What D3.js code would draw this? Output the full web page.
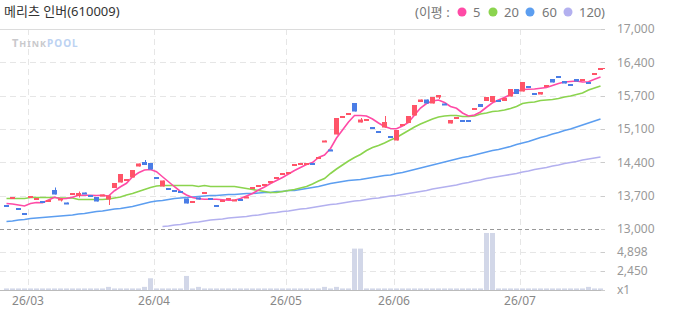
<!DOCTYPE html>
<html>
<head>
<meta charset="utf-8">
<script src="https://cdn.jsdelivr.net/npm/d3@7"></script>
<style>
body { margin: 0; background: #fff; }
text { font-family: "Noto Sans", "Noto Sans CJK KR", sans-serif; }
</style>
</head>
<body>
<div id="chart"></div>
<script>
var title = "메리츠 인버(610009)";

// daily candles, oldest first
var opens = [13480,13620,13420,13320,13650,13580,13560,13570,13780,13570,
  13530,13710,13660,13730,13680,13640,13680,13590,13820,13930,
  13960,14030,14250,14340,14320,14040,13850,13820,13780,13760,
  13610,13550,13630,13730,13620,13480,13570,13610,13580,13600,
  13640,13830,13870,13890,13950,14030,14110,14130,14290,14290,
  14310,14320,14430,14760,14590,14890,15250,15310,15520,15130,
  15190,15040,14960,15030,14860,14770,15090,15120,15270,15540,
  15590,15510,15630,15510,15110,15230,15180,15180,15410,15500,
  15560,15540,15580,15560,15650,15800,15750,15860,15720,15690,
  15870,16000,16060,15960,15900,16000,15990,15940,16110,16210];
var closes = [13470,13640,13410,13310,13660,13620,13550,13580,13690,13610,
  13520,13720,13720,13720,13670,13550,13690,13670,13920,14100,
  14000,14180,14310,14280,14190,14030,13970,13810,13770,13750,
  13510,13560,13590,13740,13610,13470,13580,13620,13590,13590,
  13650,13840,13880,13900,13960,14040,14120,14140,14300,14320,
  14320,14290,14440,14770,14580,15220,15260,15320,15350,15190,
  15200,15030,14950,15140,14850,14980,15100,15260,15480,15590,
  15510,15640,15680,15500,15180,15240,15170,15170,15420,15440,
  15640,15660,15570,15620,15800,15700,15940,15850,15710,15740,
  15880,15930,16030,15910,15890,15950,16000,15930,16120,16220];
var highs = [13480,13640,13420,13320,13660,13620,13560,13580,13830,13610,
  13530,13720,13750,13730,13680,13640,13690,13670,13920,14100,
  14000,14180,14310,14380,14320,14040,13970,13820,13780,13760,
  13610,13560,13630,13740,13620,13480,13580,13620,13590,13600,
  13650,13840,13880,13900,13960,14040,14120,14140,14300,14320,
  14320,14320,14440,14770,14590,15220,15260,15320,15520,15220,
  15200,15040,14960,15260,14860,14980,15100,15260,15480,15590,
  15590,15640,15680,15510,15180,15240,15180,15180,15420,15500,
  15640,15660,15580,15620,15800,15800,15940,15860,15720,15740,
  15880,16000,16060,15960,15900,16000,16000,15940,16120,16220];
var lows = [13470,13620,13410,13310,13650,13580,13550,13570,13690,13550,
  13520,13710,13630,13720,13670,13550,13680,13480,13820,13930,
  13960,14030,14250,14280,14190,14030,13850,13810,13770,13750,
  13510,13550,13590,13730,13610,13470,13570,13610,13580,13590,
  13640,13830,13870,13890,13950,14030,14110,14130,14290,14290,
  14310,14290,14430,14760,14580,14890,15250,15310,15350,15130,
  15190,15030,14950,15030,14850,14770,15090,15120,15270,15540,
  15510,15510,15600,15500,15110,15230,15170,15170,15410,15440,
  15560,15540,15570,15560,15650,15700,15750,15850,15710,15690,
  15870,15930,16030,15910,15890,15950,15990,15900,16110,16210];
var volumes = [200,200,200,200,200,200,200,200,200,200,
  200,200,200,200,200,200,200,400,200,200,
  200,200,200,400,1500,200,200,200,200,200,
  1800,200,400,200,200,200,200,200,200,200,
  200,200,200,200,200,200,200,200,200,200,
  200,200,200,400,200,400,200,200,5300,5300,
  200,200,200,200,200,200,200,200,200,200,
  200,200,200,200,200,200,200,200,200,200,
  7300,7300,200,200,200,200,200,200,200,200,
  200,200,200,200,200,200,200,400,200,200];

// moving averages
var ma5 = [13510,13500,13480,13460,13510,13530,13525,13580,13635,13605,
  13610,13635,13675,13675,13675,13670,13675,13660,13765,13845,
  13915,14045,14125,14180,14190,14145,14045,13945,13845,13750,
  13680,13630,13605,13595,13595,13595,13585,13575,13575,13610,
  13660,13710,13780,13840,13910,13970,14030,14100,14170,14230,
  14290,14330,14430,14480,14610,14820,14980,15140,15270,15270,
  15260,15200,15120,15050,15010,15005,15060,15130,15280,15420,
  15510,15560,15580,15530,15450,15415,15320,15260,15280,15340,
  15435,15525,15580,15630,15690,15750,15790,15795,15800,15815,
  15830,15870,15910,15940,15950,15960,15940,15945,15995,16040];
var ma20 = [13610,13610,13610,13610,13630,13630,13630,13630,13630,13620,
  13620,13620,13590,13590,13590,13590,13590,13600,13620,13640,
  13680,13710,13750,13790,13830,13860,13870,13870,13870,13870,
  13870,13870,13850,13870,13850,13850,13850,13850,13850,13830,
  13810,13790,13770,13750,13730,13730,13750,13770,13790,13820,
  13850,13900,13960,14010,14110,14200,14280,14360,14430,14490,
  14570,14630,14670,14720,14780,14830,14900,14970,15040,15100,
  15150,15200,15240,15260,15270,15270,15250,15250,15260,15300,
  15320,15350,15360,15380,15410,15450,15510,15530,15540,15570,
  15580,15590,15610,15640,15660,15690,15720,15780,15820,15860];
var ma60 = [13150,13160,13180,13190,13210,13220,13230,13240,13250,13260,
  13270,13280,13300,13310,13330,13350,13360,13380,13400,13410,
  13430,13450,13480,13510,13540,13560,13570,13590,13610,13620,
  13630,13640,13650,13660,13670,13670,13680,13690,13690,13700,
  13710,13710,13720,13730,13730,13750,13750,13770,13770,13790,
  13810,13830,13850,13880,13910,13930,13950,13970,13980,13990,
  14010,14030,14050,14070,14080,14110,14130,14160,14190,14220,
  14250,14280,14310,14340,14370,14400,14430,14450,14480,14510,
  14540,14570,14590,14620,14650,14690,14720,14750,14790,14830,
  14860,14900,14930,14970,15000,15040,15080,15120,15160,15200];
var ma120 = [null,null,null,null,null,null,null,null,null,null,
  null,null,null,null,null,null,null,null,null,null,
  null,null,null,null,null,null,13050,13060,13080,13090,
  13110,13130,13140,13160,13180,13190,13200,13220,13230,13240,
  13250,13270,13280,13300,13320,13330,13350,13360,13380,13400,
  13410,13430,13450,13470,13490,13500,13520,13540,13560,13570,
  13590,13610,13620,13640,13660,13670,13690,13710,13730,13750,
  13770,13800,13820,13840,13860,13880,13910,13930,13960,13980,
  14010,14030,14050,14070,14090,14110,14140,14160,14190,14210,
  14230,14260,14280,14310,14330,14350,14380,14400,14420,14440];

var monthStarts = [4, 25, 47, 65, 86];
var monthLabels = ["26/03", "26/04", "26/05", "26/06", "26/07"];
var priceTickLabels = ["13,000", "13,700", "14,400", "15,100", "15,700", "16,400", "17,000"];
var volTicks = [0, 2450, 4898];
var volTickLabels = ["x1", "2,450", "4,898"];
var maNames = ["5", "20", "60", "120"];
var maColors = ["#ff4aa6", "#8bd44e", "#5c9ef0", "#b3b0ef"];

var W = 673, H = 315;
var upColor = "#ff5468", downColor = "#4a7de6";

var svg = d3.select("#chart").append("svg")
  .attr("width", W)
  .attr("height", H);

var idx = d3.range(opens.length);
var x = d3.scaleBand().domain(idx).range([4, 603]).paddingInner(1 / 6).paddingOuter(0);
var xc = function(i) { return x(i) + x.bandwidth() / 2; };

var y = d3.scaleLinear().domain([13000, 17000]).range([229, 29]);
var yv = d3.scaleLinear().domain([0, 7347]).range([290, 232.6]);

var priceTicks = d3.range(7).map(function(k) { return 13000 + k * 4000 / 6; });

// grid
svg.append("g").selectAll("line")
  .data(priceTicks.slice(1, 6))
  .enter().append("line")
  .attr("x1", 0).attr("x2", 605)
  .attr("y1", function(d) { return Math.round(y(d)) + 0.5; })
  .attr("y2", function(d) { return Math.round(y(d)) + 0.5; })
  .style("stroke", "#e6e6e6")
  .style("stroke-dasharray", "6,4");

svg.append("g").selectAll("line")
  .data(volTicks.slice(1))
  .enter().append("line")
  .attr("x1", 0).attr("x2", 605)
  .attr("y1", function(d) { return Math.round(yv(d)) + 0.5; })
  .attr("y2", function(d) { return Math.round(yv(d)) + 0.5; })
  .style("stroke", "#e6e6e6")
  .style("stroke-dasharray", "6,4");

svg.append("g").selectAll("line")
  .data(monthStarts)
  .enter().append("line")
  .attr("x1", function(d) { return Math.round(x(d)) + 0.5; })
  .attr("x2", function(d) { return Math.round(x(d)) + 0.5; })
  .attr("y1", 29).attr("y2", 290)
  .style("stroke", "#e6e6e6")
  .style("stroke-dasharray", "6,4");

// top border and panel separator
svg.append("line")
  .attr("x1", 0).attr("x2", 605)
  .attr("y1", Math.round(y(17000)) + 0.5).attr("y2", Math.round(y(17000)) + 0.5)
  .style("stroke", "#dcdcdc");
svg.append("line")
  .attr("x1", 0).attr("x2", 605)
  .attr("y1", Math.round(y(13000)) + 0.5).attr("y2", Math.round(y(13000)) + 0.5)
  .style("stroke", "#999")
  .style("stroke-dasharray", "4,3");
svg.append("line")
  .attr("x1", 0).attr("x2", 603)
  .attr("y1", 290.5).attr("y2", 290.5)
  .style("stroke", "#bbb");

// watermark
var wm = svg.append("text")
  .attr("x", 12).attr("y", 47)
  .style("font-weight", "bold")
  .style("letter-spacing", "1px");
wm.append("tspan").text("T").style("font-size", "11px").style("fill", "#c9c9cc");
wm.append("tspan").text("HINK").style("font-size", "9px").style("fill", "#c9c9cc");
wm.append("tspan").text("POOL").style("font-size", "10px").style("fill", "#bcd2f2");

// volume bars
svg.append("g").selectAll("rect")
  .data(volumes)
  .enter().append("rect")
  .attr("x", function(d, i) { return x(i); })
  .attr("width", x.bandwidth())
  .attr("y", function(d) { return yv(d); })
  .attr("height", function(d) { return yv(0) - yv(d); })
  .style("fill", "#d2d7e8");

// moving averages
var maSeries = [ma120, ma60, ma20, ma5];
var maCols = [maColors[3], maColors[2], maColors[1], maColors[0]];
var line = d3.line()
  .defined(function(d) { return d != null; })
  .x(function(d, i) { return xc(i); })
  .y(function(d) { return y(d); });

svg.append("g").selectAll("path")
  .data(maSeries)
  .enter().append("path")
  .attr("d", line)
  .style("fill", "none")
  .style("stroke", function(d, i) { return maCols[i]; })
  .style("stroke-width", 1.6);

// candles
var candles = svg.append("g").selectAll("g")
  .data(idx)
  .enter().append("g");

candles.append("line")
  .attr("x1", function(i) { return Math.round(xc(i)) + 0.5; })
  .attr("x2", function(i) { return Math.round(xc(i)) + 0.5; })
  .attr("y1", function(i) { return y(highs[i]); })
  .attr("y2", function(i) { return y(lows[i]); })
  .style("stroke", function(i) { return closes[i] >= opens[i] ? upColor : downColor; });

candles.append("rect")
  .attr("x", function(i) { return x(i); })
  .attr("width", x.bandwidth())
  .attr("y", function(i) { return y(Math.max(opens[i], closes[i])); })
  .attr("height", function(i) { return Math.max(2, Math.abs(y(opens[i]) - y(closes[i]))); })
  .style("fill", function(i) { return closes[i] >= opens[i] ? upColor : downColor; });

// right axis labels
svg.append("g").selectAll("text")
  .data(priceTicks)
  .enter().append("text")
  .attr("x", 617)
  .attr("y", function(d) { return y(d); })
  .attr("dy", "0.35em")
  .style("font-size", "12px")
  .style("fill", "#999")
  .text(function(d, i) { return priceTickLabels[i]; });

svg.append("g").selectAll("text")
  .data(volTicks)
  .enter().append("text")
  .attr("x", 617)
  .attr("y", function(d) { return yv(d); })
  .attr("dy", "0.35em")
  .style("font-size", "12px")
  .style("fill", "#999")
  .text(function(d, i) { return volTickLabels[i]; });

svg.append("g").selectAll("line")
  .data(priceTicks.concat(volTicks.map(function(v) { return -v - 1; })))
  .enter().append("line")
  .attr("x1", 601).attr("x2", 605)
  .attr("y1", function(d) { return Math.round(d < 0 ? yv(-d - 1) : y(d)) + 0.5; })
  .attr("y2", function(d) { return Math.round(d < 0 ? yv(-d - 1) : y(d)) + 0.5; })
  .style("stroke", "#ccc");

// last price marker
svg.append("line")
  .attr("x1", 600).attr("x2", 605)
  .attr("y1", Math.round(y(closes[closes.length - 1])) + 0.5)
  .attr("y2", Math.round(y(closes[closes.length - 1])) + 0.5)
  .style("stroke", upColor);

// month labels
svg.append("g").selectAll("text")
  .data(monthStarts)
  .enter().append("text")
  .attr("x", function(d) { return x(d); })
  .attr("y", 305)
  .attr("text-anchor", "middle")
  .style("font-size", "12px")
  .style("fill", "#888")
  .text(function(d, i) { return monthLabels[i]; });

// title
svg.append("text")
  .attr("x", 4).attr("y", 16)
  .style("font-size", "13px")
  .style("fill", "#333")
  .text(title);

// legend
var leg = svg.append("g").attr("transform", "translate(0,12)");
leg.append("text").attr("x", 415).attr("dy", "0.35em")
  .style("font-size", "13px").style("fill", "#777").text("(이평 :");
var legX = [462, 493, 530, 568];
var legTextX = [473, 504, 542, 579];
leg.selectAll("circle")
  .data(maNames)
  .enter().append("circle")
  .attr("cx", function(d, i) { return legX[i]; })
  .attr("r", 4.5)
  .style("fill", function(d, i) { return maColors[i]; });
leg.selectAll("text.lg")
  .data(maNames)
  .enter().append("text")
  .attr("class", "lg")
  .attr("x", function(d, i) { return legTextX[i]; })
  .attr("dy", "0.35em")
  .style("font-size", "13px")
  .style("fill", "#777")
  .text(function(d) { return d; });
leg.append("text").attr("x", 601).attr("dy", "0.35em")
  .style("font-size", "13px").style("fill", "#777").text(")");
</script>
</body>
</html>
